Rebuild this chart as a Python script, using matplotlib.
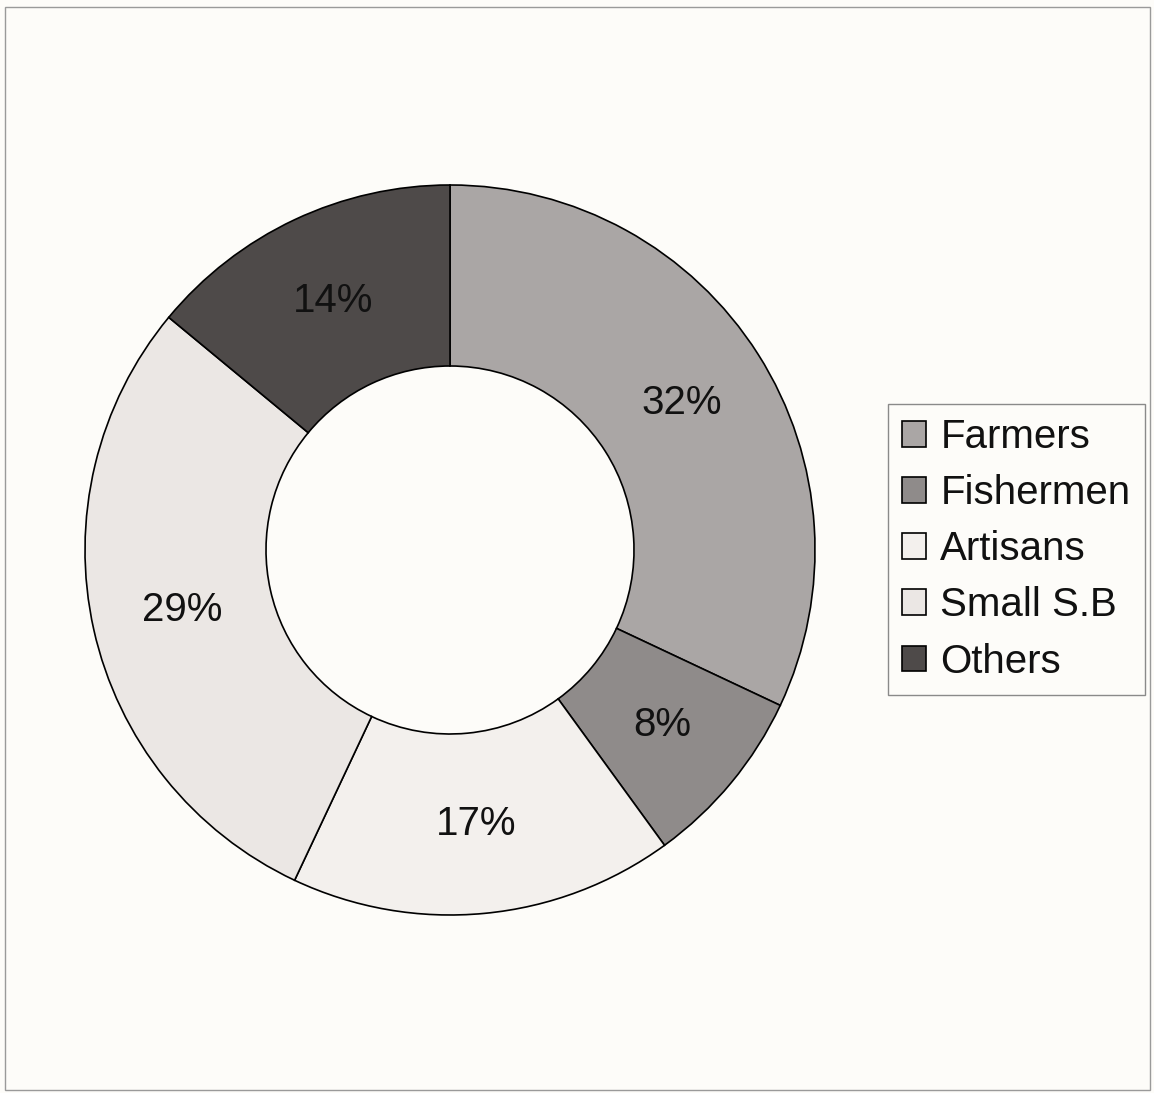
import matplotlib
matplotlib.use("Agg")
import matplotlib.pyplot as plt
from matplotlib.patches import Rectangle

# Occupation shares
categories = ["Farmers", "Fishermen", "Artisans", "Small S.B", "Others"]
shares = [32, 8, 17, 29, 14]
colors = ["#aaa6a5", "#8f8b8a", "#f3f0ed", "#ebe7e4", "#4e4a49"]

W, H = 1154, 1093
DPI = 100
plt.rcParams["font.family"] = ["Liberation Sans", "DejaVu Sans"]

fig = plt.figure(figsize=(W / DPI, H / DPI), dpi=DPI, facecolor="#fdfcf9")
ax = fig.add_axes([0, 0, 1, 1])

R = 365
ring = 181
wedges, texts, autotexts = ax.pie(
    shares,
    colors=colors,
    startangle=90,
    counterclock=False,
    center=(450, H - 550),
    radius=R,
    autopct="%d%%",
    pctdistance=0.753,
    wedgeprops=dict(width=ring, edgecolor="black", linewidth=1.2),
    textprops=dict(fontsize=29, color="#111111"),
    frame=True,
)
ax.set_xlim(0, W)
ax.set_ylim(0, H)
ax.set_aspect("equal")
ax.axis("off")

leg = ax.legend(
    wedges, categories,
    loc="upper left",
    bbox_to_anchor=(888 / W, 1 - 404 / H),
    bbox_transform=fig.transFigure,
    fontsize=29,
    frameon=True,
    fancybox=False,
    edgecolor="#8a8a8a",
    facecolor="#fdfcf9",
    framealpha=1,
    handlelength=0.6,
    handleheight=0.6,
    handletextpad=0.35,
    labelspacing=0.45,
    borderpad=0.35,
    borderaxespad=0,
)
leg.get_frame().set_linewidth(1.0)
for t in leg.get_texts():
    t.set_color("#111111")

# thin border around the page
fig.patches.append(Rectangle((5 / W, 3 / H), 1145 / W, 1083 / H,
                             transform=fig.transFigure, fill=False,
                             edgecolor="#9a9a9a", linewidth=1.0))

fig.savefig("out.png", dpi=DPI, facecolor=fig.get_facecolor())
